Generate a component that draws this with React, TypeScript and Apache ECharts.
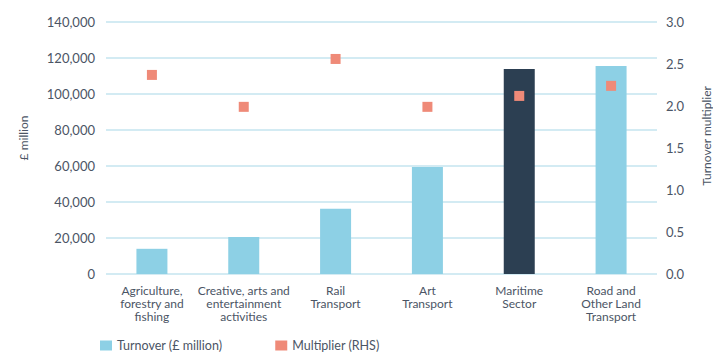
import React, { useEffect, useRef } from "react";
import * as echarts from "echarts";

const categories = [
  "Agriculture,\nforestry and\nfishing",
  "Creative, arts and\nentertainment\nactivities",
  "Rail\nTransport",
  "Art\nTransport",
  "Maritime\nSector",
  "Road and\nOther Land\nTransport",
];
const turnover = [14000, 20600, 36200, 59500, 113900, 115600];
const multiplier = [2.37, 1.99, 2.56, 1.99, 2.12, 2.24];
const highlightIndex = 4;
const leftAxisName = "£ million";
const rightAxisName = "Turnover multiplier";

const FONT = "Lato";
const TEXT = "#4b5565";

export default function App() {
  const ref = useRef<HTMLDivElement>(null);
  useEffect(() => {
    if (!ref.current) return;
    const chart = echarts.init(ref.current, undefined, { renderer: "svg" });
    chart.setOption({
      animation: false,
      textStyle: { fontFamily: FONT, color: TEXT },
      grid: { left: 106, right: 56, top: 22, bottom: 78, containLabel: false, outerBoundsMode: "none" },
      graphic: [
        {
          type: "text",
          x: 23,
          y: 138,
          rotation: Math.PI / 2,
          style: {
            text: leftAxisName,
            fill: TEXT,
            font: `12px ${FONT}`,
            align: "center",
            verticalAlign: "middle",
          },
        },
        {
          type: "text",
          x: 706,
          y: 136,
          rotation: Math.PI / 2,
          style: {
            text: rightAxisName,
            fill: TEXT,
            font: `12px ${FONT}`,
            align: "center",
            verticalAlign: "middle",
          },
        },
      ],
      legend: {
        left: 95,
        top: 334,
        itemWidth: 12,
        itemHeight: 10,
        itemGap: 53,
        textStyle: { fontFamily: FONT, fontSize: 12.5, color: TEXT },
        data: [
          { name: "Turnover (£ million)", icon: "rect", itemStyle: { color: "#8dd0e5" } },
          { name: "Multiplier (RHS)", icon: "rect", itemStyle: { color: "#ef8a78" } },
        ],
      },
      xAxis: {
        type: "category",
        data: categories,
        axisLine: { show: false },
        axisTick: { show: false },
        axisLabel: {
          interval: 0,
          margin: 10,
          lineHeight: 13,
          fontSize: 12,
          color: TEXT,
          fontFamily: FONT,
        },
      },
      yAxis: [
        {
          type: "value",
          min: 0,
          max: 140000,
          interval: 20000,
          axisLine: { show: false },
          axisTick: { show: false },
          axisLabel: {
            fontSize: 13,
            color: TEXT,
            fontFamily: FONT,
            margin: 11,
            formatter: (v: number) => v.toLocaleString("en-GB"),
          },
          splitLine: { lineStyle: { color: "#d3ebf3", width: 2 } },
        },
        {
          type: "value",
          min: 0,
          max: 3,
          interval: 0.5,
          axisLine: { show: false },
          axisTick: { show: false },
          axisLabel: {
            fontSize: 13,
            color: TEXT,
            fontFamily: FONT,
            margin: 9,
            formatter: (v: number) => v.toFixed(1),
          },
          splitLine: { show: false },
        },
      ],
      series: [
        {
          name: "Turnover (£ million)",
          type: "bar",
          barWidth: 31,
          yAxisIndex: 0,
          itemStyle: { color: "#8dd0e5" },
          data: turnover.map((v, i) =>
            i === highlightIndex ? { value: v, itemStyle: { color: "#2c3f52" } } : v
          ),
        },
        {
          name: "Multiplier (RHS)",
          type: "scatter",
          yAxisIndex: 1,
          symbol: "rect",
          symbolSize: 10,
          itemStyle: { color: "#ef8a78", opacity: 1 },
          data: multiplier,
        },
      ],
    });
    return () => chart.dispose();
  }, []);
  return (
    <div
      ref={ref}
      style={{ position: "fixed", left: 0, top: 0, width: 713, height: 352, background: "#fff" }}
    />
  );
}
